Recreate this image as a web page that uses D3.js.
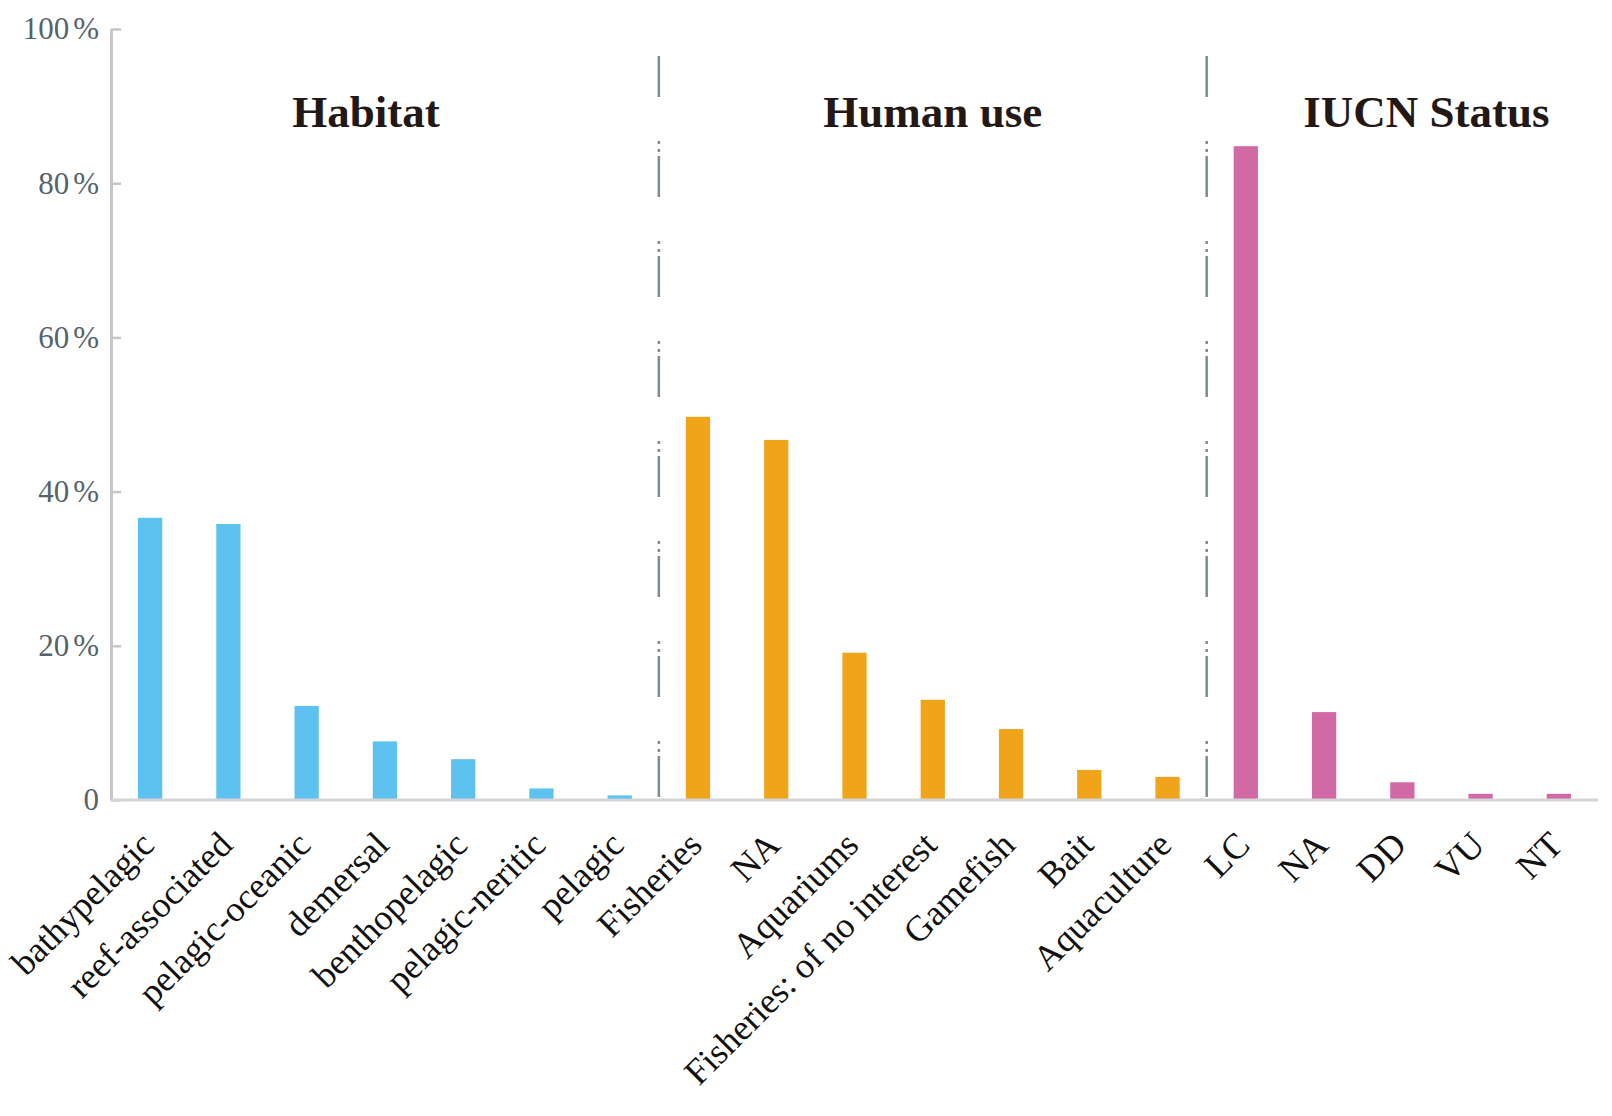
<!DOCTYPE html>
<html>
<head>
<meta charset="utf-8">
<script src="https://cdn.jsdelivr.net/npm/d3@7"></script>
<style>
  body { margin: 0; background: #fff; }
  svg { display: block; }
</style>
</head>
<body>
<div id="chart"></div>
<script>
// categories, in order along the x axis
var habitat = ["bathypelagic", "reef-associated", "pelagic-oceanic", "demersal", "benthopelagic", "pelagic-neritic", "pelagic"]
var humanUse = ["Fisheries", "NA", "Aquariums", "Fisheries: of no interest", "Gamefish", "Bait", "Aquaculture"]
var iucn = ["LC", "NA", "DD", "VU", "NT"]

// percentages
var habitatValues = [36.6, 35.8, 12.2, 7.6, 5.3, 1.5, 0.6]
var humanUseValues = [49.7, 46.7, 19.1, 13.0, 9.2, 3.9, 3.0]
var iucnValues = [84.8, 11.4, 2.3, 0.8, 0.8]

var groupNames = ["Habitat", "Human use", "IUCN Status"]
var yTicks = [0, 20, 40, 60, 80, 100]

var colors = ["#5ec2f0", "#f0a41a", "#d369a4"]

// build one flat list from the arrays above
var data = []
;[habitat, humanUse, iucn].forEach(function (cats, g) {
  var vals = [habitatValues, humanUseValues, iucnValues][g]
  cats.forEach(function (c, i) {
    data.push({ idx: data.length, name: c, value: vals[i], group: g })
  })
})

var W = 1612, H = 1116
var mLeft = 111, mRight = 1598, mTop = 29, mBottom = 800

var svg = d3.select("#chart")
  .append("svg")
    .attr("width", W)
    .attr("height", H)

var x = d3.scaleBand()
  .domain(data.map(function (d) { return d.idx }))
  .range([mLeft, mRight])
  .paddingInner(0.69)
  .paddingOuter(0.345)

var y = d3.scaleLinear()
  .domain([0, 100])
  .range([mBottom, mTop])

// y axis, ticks pointing inward
var yAxis = svg.append("g")
  .attr("transform", "translate(" + mLeft + ",0)")
  .call(d3.axisLeft(y).tickValues(yTicks).tickSize(-10).tickSizeOuter(0).tickPadding(12))

yAxis.select(".domain").attr("stroke", "#c4c6c8").attr("stroke-width", 3)
yAxis.selectAll(".tick line").attr("stroke", "#c4c6c8").attr("stroke-width", 2.5)
yAxis.selectAll(".tick text")
  .attr("font-family", "'Liberation Serif', 'Times New Roman', serif")
  .attr("font-size", 31)
  .attr("fill", "#55636b")
  .each(function (d) {
    var t = d3.select(this)
    t.text(d)
    if (d) t.append("tspan").attr("dx", 4).text("%")
  })

// group separators (dash-dot-dot)
var sepIdx = [habitat.length, habitat.length + humanUse.length]
svg.append("g")
  .selectAll("line")
  .data(sepIdx)
  .enter()
  .append("line")
    .attr("x1", function (d) { return x(d) - x.step() * x.paddingInner() / 2 })
    .attr("x2", function (d) { return x(d) - x.step() * x.paddingInner() / 2 })
    .attr("y1", 56)
    .attr("y2", mBottom)
    .attr("stroke", "#7d8b93")
    .attr("stroke-width", 2.5)
    .attr("stroke-dasharray", "41,44,3,5,3,4")

// bars
svg.append("g")
  .selectAll("rect")
  .data(data)
  .enter()
  .append("rect")
    .attr("x", function (d) { return x(d.idx) })
    .attr("y", function (d) { return y(d.value) })
    .attr("width", x.bandwidth())
    .attr("height", function (d) { return y(0) - y(d.value) })
    .attr("fill", function (d) { return colors[d.group] })

// baseline
svg.append("line")
  .attr("x1", mLeft)
  .attr("x2", mRight)
  .attr("y1", mBottom)
  .attr("y2", mBottom)
  .attr("stroke", "#d3d5d7")
  .attr("stroke-width", 3)

// category labels, rotated
svg.append("g")
  .selectAll("text")
  .data(data)
  .enter()
  .append("text")
    .attr("transform", function (d) {
      return "translate(" + (x(d.idx) + x.bandwidth() / 2 + 6) + "," + (mBottom + 47) + ") rotate(-45)"
    })
    .attr("text-anchor", "end")
    .attr("font-family", "'Liberation Serif', 'Times New Roman', serif")
    .attr("font-size", 36)
    .attr("fill", "#111")
    .text(function (d) { return d.name })

// group titles
var titleShift = [-19, 0, 24]
svg.append("g")
  .selectAll("text")
  .data(groupNames)
  .enter()
  .append("text")
    .attr("x", function (d, g) {
      var items = data.filter(function (e) { return e.group === g })
      var a = x(items[0].idx), b = x(items[items.length - 1].idx) + x.bandwidth()
      return (a + b) / 2 + titleShift[g]
    })
    .attr("y", 127)
    .attr("text-anchor", "middle")
    .attr("font-family", "'Liberation Serif', 'Times New Roman', serif")
    .attr("font-weight", "bold")
    .attr("font-size", 45)
    .attr("fill", "#231815")
    .text(function (d) { return d })
</script>
</body>
</html>
